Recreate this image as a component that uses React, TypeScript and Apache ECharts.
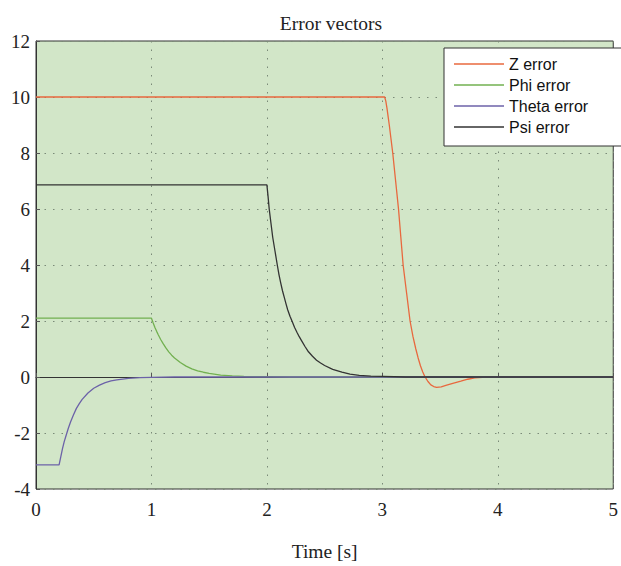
import React, { useEffect, useRef } from "react";
import * as echarts from "echarts";

const xTicks = [0, 1, 2, 3, 4, 5];
const yRange = [-4, 12];

const zTime = [0, 3.02, 3.03, 3.04, 3.05, 3.06, 3.075, 3.09, 3.115, 3.14, 3.16, 3.18, 3.21, 3.24, 3.265, 3.29, 3.31, 3.33, 3.35, 3.37, 3.395, 3.42, 3.445, 3.47, 3.51, 3.55, 3.61, 3.68, 3.74, 3.8, 3.9, 5];
const zVal = [10, 10, 9.85, 9.6, 9.3, 9.0, 8.5, 8.0, 7.0, 6.0, 5.0, 4.0, 3.0, 2.0, 1.45, 1.0, 0.68, 0.4, 0.18, 0, -0.16, -0.28, -0.34, -0.37, -0.35, -0.3, -0.23, -0.15, -0.08, -0.03, 0, 0];

const phiTime = [0, 1.0, 1.015, 1.03, 1.045, 1.06, 1.08, 1.1, 1.125, 1.15, 1.175, 1.2, 1.25, 1.3, 1.35, 1.4, 1.45, 1.5, 1.6, 1.7, 1.8, 2.0, 2.2, 5];
const phiVal = [2.1, 2.1, 1.93, 1.77, 1.63, 1.5, 1.34, 1.2, 1.04, 0.9, 0.78, 0.68, 0.52, 0.39, 0.29, 0.22, 0.17, 0.13, 0.07, 0.04, 0.02, 0.01, 0, 0];

const thetaTime = [0, 0.2, 0.215, 0.23, 0.245, 0.26, 0.28, 0.3, 0.325, 0.35, 0.375, 0.4, 0.45, 0.5, 0.55, 0.6, 0.65, 0.7, 0.8, 0.9, 1.0, 1.2, 5];
const thetaVal = [-3.14, -3.14, -2.84, -2.55, -2.3, -2.1, -1.83, -1.6, -1.35, -1.12, -0.95, -0.8, -0.57, -0.4, -0.29, -0.2, -0.14, -0.1, -0.05, -0.02, -0.01, 0, 0];

const psiTime = [0, 2.0, 2.01, 2.02, 2.035, 2.05, 2.07, 2.09, 2.105, 2.12, 2.135, 2.15, 2.165, 2.18, 2.2, 2.22, 2.24, 2.26, 2.28, 2.3, 2.33, 2.36, 2.395, 2.43, 2.465, 2.5, 2.57, 2.65, 2.72, 2.8, 2.9, 3.0, 3.2, 5];
const psiVal = [6.86, 6.86, 6.45, 6.0, 5.5, 5.0, 4.5, 4.0, 3.65, 3.35, 3.08, 2.85, 2.62, 2.4, 2.17, 1.97, 1.77, 1.6, 1.44, 1.3, 1.09, 0.9, 0.74, 0.6, 0.5, 0.41, 0.27, 0.17, 0.1, 0.06, 0.03, 0.02, 0, 0];

const seriesNames = ["Z error", "Phi error", "Theta error", "Psi error"];
const seriesColors = ["#e8683e", "#72b050", "#6c62a8", "#333333"];

const zip = (t: number[], v: number[]) => t.map((x, i) => [x, v[i]]);

export default function App() {
  const ref = useRef<HTMLDivElement>(null);
  useEffect(() => {
    if (!ref.current) return;
    const chart = echarts.init(ref.current, null, { renderer: "svg" });
    const data = [zip(zTime, zVal), zip(phiTime, phiVal), zip(thetaTime, thetaVal), zip(psiTime, psiVal)];
    const serif = "'Liberation Serif', 'Times New Roman', serif";
    chart.setOption({
      animation: false,
      backgroundColor: "#ffffff",
      title: {
        text: "Error vectors",
        left: 326,
        textAlign: "center",
        top: 8,
        textStyle: { fontFamily: serif, fontSize: 19.5, fontWeight: "normal", color: "#222" },
      },
      grid: {
        left: 36,
        right: 5,
        top: 41,
        height: 457,
        show: true,
        backgroundColor: "#d2e6c8",
        borderColor: "#333",
        borderWidth: 1,
      },
      legend: {
        orient: "vertical",
        left: 444,
        top: 48,
        padding: [8, 38, 11, 10],
        itemGap: 5,
        itemWidth: 50,
        itemHeight: 1.3,
        icon: "rect",
        backgroundColor: "#ffffff",
        borderColor: "#333",
        borderWidth: 1,
        textStyle: { fontFamily: "'Liberation Sans', Arial, sans-serif", fontSize: 16, color: "#111", lineHeight: 16 },
        data: seriesNames,
      },
      xAxis: {
        type: "value",
        min: xTicks[0],
        max: xTicks[xTicks.length - 1],
        interval: 1,
        name: "Time [s]",
        nameLocation: "middle",
        nameGap: 52,
        nameTextStyle: { fontFamily: serif, fontSize: 19.5, color: "#222" },
        axisLine: { show: true, lineStyle: { color: "#333" } },
        axisTick: { show: true, inside: true, length: 4, lineStyle: { color: "#555" } },
        axisLabel: { fontFamily: serif, fontSize: 19, color: "#222", margin: 11 },
        splitLine: { show: true, lineStyle: { color: "#7a8a78", type: [1.5, 7], width: 1 } },
      },
      yAxis: {
        type: "value",
        min: yRange[0],
        max: yRange[1],
        interval: 2,
        axisLine: { show: true, lineStyle: { color: "#333" } },
        axisTick: { show: true, inside: true, length: 4, lineStyle: { color: "#555" } },
        axisLabel: { fontFamily: serif, fontSize: 19, color: "#222", margin: 6 },
        splitLine: { show: true, lineStyle: { color: "#7a8a78", type: [1.5, 7], width: 1 } },
      },
      series: seriesNames.map((name, i) => ({
        name,
        type: "line",
        data: data[i],
        symbol: "none",
        smooth: false,
        lineStyle: { color: seriesColors[i], width: 1.3 },
        itemStyle: { color: seriesColors[i] },
      })),
    });
    return () => chart.dispose();
  }, []);
  return <div ref={ref} style={{ width: 621, height: 566, position: "absolute", left: 0, top: 0 }} />;
}
